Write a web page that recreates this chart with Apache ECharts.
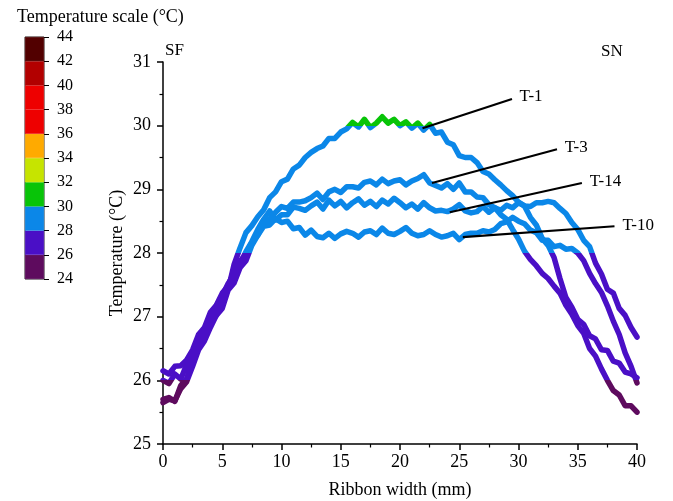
<!DOCTYPE html>
<html>
<head>
<meta charset="utf-8">
<script src="https://cdn.jsdelivr.net/npm/echarts@6/dist/echarts.min.js"></script>
<style>
html,body{margin:0;padding:0;background:#fff;}
#chart{width:673px;height:501px;}
</style>
</head>
<body>
<div id="chart"></div>
<script>
// Ribbon width positions (mm)
const widthMm = [0,0.5,1,1.5,2,2.5,3,3.5,4,4.5,5,5.5,6,6.5,7,7.5,8,8.5,9,9.5,10,10.5,11,11.5,12,12.5,13,13.5,14,14.5,15,15.5,16,16.5,17,17.5,18,18.5,19,19.5,20,20.5,21,21.5,22,22.5,23,23.5,24,24.5,25,25.5,26,26.5,27,27.5,28,28.5,29,29.5,30,30.5,31,31.5,32,32.5,33,33.5,34,34.5,35,35.5,36,36.5,37,37.5,38,38.5,39,39.5,40];

// Temperatures (°C) for each profile
const tempT1 = [26.0,25.95,26.1,26.02,26.25,26.33,26.58,26.68,26.92,27.02,27.32,27.43,27.82,28.08,28.32,28.43,28.57,28.68,28.87,28.96,29.12,29.16,29.32,29.38,29.5,29.58,29.64,29.68,29.8,29.8,29.9,29.95,30.05,29.98,30.1,29.97,30.04,30.14,30.04,30.1,30.0,30.06,29.96,30.04,29.93,30.02,29.88,29.9,29.74,29.7,29.53,29.5,29.5,29.42,29.28,29.24,29.15,29.07,28.98,28.9,28.8,28.74,28.56,28.44,28.23,28.12,27.93,27.6,27.3,27.15,26.96,26.88,26.7,26.65,26.48,26.47,26.3,26.27,26.13,26.1,26.04];
const tempT3 = [25.65,25.7,25.68,25.87,25.98,26.22,26.48,26.62,26.83,27.02,27.13,27.42,27.53,27.77,27.88,28.12,28.28,28.47,28.53,28.64,28.73,28.7,28.8,28.8,28.82,28.87,28.94,28.84,28.96,29.0,28.95,29.04,29.04,29.02,29.11,29.13,29.07,29.16,29.09,29.13,29.15,29.07,29.13,29.17,29.23,29.1,29.06,29.02,29.09,29.0,29.1,28.96,28.96,28.88,28.87,28.76,28.71,28.6,28.53,28.37,28.22,28.03,27.9,27.8,27.68,27.6,27.48,27.37,27.18,27.04,26.86,26.74,26.5,26.38,26.18,26.0,25.84,25.77,25.6,25.6,25.5];
const tempT14 = [26.15,26.1,26.22,26.23,26.32,26.48,26.72,26.83,27.07,27.18,27.37,27.48,27.72,27.83,28.02,28.18,28.37,28.53,28.66,28.52,28.6,28.6,28.72,28.7,28.67,28.74,28.8,28.69,28.83,28.74,28.81,28.71,28.79,28.85,28.75,28.81,28.73,28.83,28.77,28.86,28.79,28.71,28.77,28.69,28.79,28.71,28.66,28.67,28.65,28.69,28.76,28.66,28.63,28.65,28.73,28.64,28.71,28.67,28.75,28.71,28.79,28.74,28.73,28.79,28.79,28.81,28.79,28.7,28.62,28.48,28.37,28.2,28.1,27.84,27.67,27.43,27.37,27.13,27.02,26.83,26.68];
const tempT10 = [25.7,25.73,25.67,25.92,26.03,26.32,26.53,26.82,26.93,27.17,27.33,27.52,27.66,27.87,27.98,28.17,28.28,28.42,28.44,28.54,28.48,28.5,28.38,28.4,28.28,28.36,28.26,28.24,28.31,28.23,28.3,28.34,28.31,28.25,28.33,28.35,28.29,28.39,28.31,28.29,28.34,28.4,28.31,28.27,28.29,28.35,28.29,28.25,28.27,28.31,28.21,28.29,28.31,28.31,28.35,28.33,28.37,28.46,28.49,28.56,28.5,28.46,28.36,28.32,28.2,28.2,28.1,28.12,28.06,28.07,28.0,27.88,27.68,27.52,27.38,27.17,26.93,26.72,26.43,26.22,25.96];

const seriesNames = ['T-1','T-3','T-14','T-10'];

// Temperature scale (legend) bounds and colours
const scaleBounds = [24,26,28,30,32,34,36,38,40,42,44];
const scaleColors = ['#5e0b5e','#4a0fc6','#0b87e8','#08c408','#c6e400','#ffaa00','#ee0000','#ee0000','#b20000','#520000'];

// Annotation pointer lines: [curve point, label end] in data units
const pointerStart = [[21.9,29.96],[22.7,29.10],[24.2,28.64],[25.3,28.25]];
const pointerEnd = [[29.45,30.42],[33.25,29.63],[35.35,29.10],[38.1,28.42]];

const chart = echarts.init(document.getElementById('chart'));
const temps = [tempT1, tempT3, tempT14, tempT10];
const FONT = '"Liberation Serif","Times New Roman",serif';

const lineSeries = temps.map((arr, i) => ({
  name: seriesNames[i],
  type: 'line',
  xAxisIndex: 0, yAxisIndex: 0,
  showSymbol: false,
  symbol: 'none',
  smooth: false,
  lineStyle: { width: 5.5, join: 'round', cap: 'round' },
  data: arr.map((v, j) => [widthMm[j], v]),
  z: 3
}));

const annotationSeries = {
  type: 'scatter', xAxisIndex: 0, yAxisIndex: 0, data: [], silent: true,
  markLine: {
    silent: true, symbol: ['none','none'], animation: false,
    lineStyle: { color: '#000', width: 2.2, type: 'solid' },
    label: { show: true, position: 'end', color: '#000', fontFamily: FONT, fontSize: 17, distance: 8 },
    data: seriesNames.map((n, i) => [
      { coord: pointerStart[i], name: n },
      { coord: pointerEnd[i] }
    ])
  },
  z: 5
};

const scaleSeries = [{
  type: 'bar', xAxisIndex: 1, yAxisIndex: 1, stack: 'scale', data: [scaleBounds[0]],
  itemStyle: { color: 'rgba(0,0,0,0)' }, barWidth: '100%', silent: true, clip: true
}].concat(scaleColors.map((c, i) => ({
  type: 'bar', xAxisIndex: 1, yAxisIndex: 1, stack: 'scale',
  data: [scaleBounds[i+1] - scaleBounds[i]],
  itemStyle: { color: c, borderColor: c, borderWidth: 0.5 }, barWidth: '100%', silent: true, clip: true
})));

chart.setOption({
  animation: false,
  backgroundColor: '#fff',
  textStyle: { fontFamily: FONT, color: '#000' },
  grid: [
    { left: 163, right: 36, top: 62, bottom: 57, outerBoundsMode: 'none', containLabel: false },
    { left: 25, top: 37, width: 19, height: 242, show: true, borderColor: '#333', borderWidth: 1, backgroundColor: 'transparent', outerBoundsMode: 'none', containLabel: false }
  ],
  visualMap: {
    type: 'piecewise', show: false, dimension: 1, seriesIndex: [0,1,2,3],
    pieces: scaleColors.map((c, i) => ({ gte: scaleBounds[i], lt: scaleBounds[i+1], color: c }))
  },
  xAxis: [{
    type: 'value', gridIndex: 0, min: 0, max: 40, interval: 5,
    name: 'Ribbon width (mm)', nameLocation: 'middle', nameGap: 37, nameMoveOverlap: false,
    nameTextStyle: { fontFamily: FONT, fontSize: 18, color: '#000' },
    axisLine: { lineStyle: { color: '#000', width: 1.5 } },
    axisTick: { show: true, length: 6, lineStyle: { color: '#000', width: 1.5 } },
    minorTick: { show: true, splitNumber: 2, length: 3.5, lineStyle: { color: '#000', width: 1.2 } },
    axisLabel: { fontFamily: FONT, fontSize: 18, color: '#000', margin: 9 },
    splitLine: { show: false }
  }, {
    type: 'category', gridIndex: 1, data: [''], show: false
  }],
  yAxis: [{
    type: 'value', gridIndex: 0, min: 25, max: 31, interval: 1,
    name: 'Temperature (°C)', nameLocation: 'middle', nameGap: 37, nameMoveOverlap: false,
    nameTextStyle: { fontFamily: FONT, fontSize: 18, color: '#000' },
    axisLine: { show: true, lineStyle: { color: '#000', width: 1.5 } },
    axisTick: { show: true, length: 6, lineStyle: { color: '#000', width: 1.5 } },
    minorTick: { show: true, splitNumber: 2, length: 3.5, lineStyle: { color: '#000', width: 1.2 } },
    axisLabel: { fontFamily: FONT, fontSize: 18, color: '#000', margin: 12 },
    splitLine: { show: false }
  }, {
    type: 'value', gridIndex: 1, min: 24, max: 44, interval: 2, position: 'right',
    axisLine: { show: false },
    axisTick: { show: true, length: 5, lineStyle: { color: '#000', width: 1 } },
    axisLabel: { fontFamily: FONT, fontSize: 16, color: '#000', margin: 13 },
    splitLine: { show: false }
  }],
  graphic: [
    { type: 'text', left: 17, top: 8, style: { text: 'Temperature scale (°C)', font: '18px ' + FONT, fill: '#000' } },
    { type: 'text', left: 165, top: 42, style: { text: 'SF', font: '17px ' + FONT, fill: '#000' } },
    { type: 'text', left: 601, top: 43, style: { text: 'SN', font: '17px ' + FONT, fill: '#000' } }
  ],
  series: lineSeries.concat([annotationSeries]).concat(scaleSeries)
});
</script>
</body>
</html>
